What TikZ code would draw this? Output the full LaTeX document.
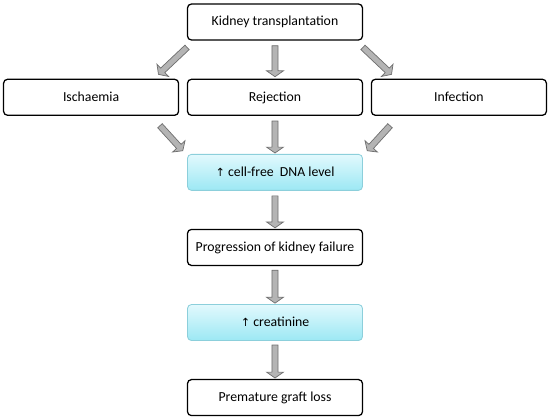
\documentclass[tikz,border=0pt]{standalone}
\usepackage{fontspec}
\setmainfont{Carlito}
\newfontfamily\symfont{DejaVu Sans}
\usetikzlibrary{arrows.meta,positioning,calc,shapes.arrows}
\definecolor{dnaTop}{HTML}{E2F9FD}
\definecolor{dnaBottom}{HTML}{9CE8F4}
\definecolor{dnaLine}{HTML}{8CCFDB}
\definecolor{arrowFill}{HTML}{B4B4B4}
\definecolor{arrowLine}{HTML}{6E6E6E}

% block arrow between two named coordinates
\newcommand{\graftarrow}[2]{%
  \path let \p1=($(#2)-(#1)$), \n1={atan2(\y1,\x1)}, \n2={veclen(\x1,\y1)} in
    node[flowarrow, rotate=\n1, minimum height=\n2] at ($(#1)!0.5!(#2)$) {};}

\begin{document}
\begin{tikzpicture}[
    x=0.025cm, y=-0.025cm,
    node distance=0.95cm and 0.19cm,
    font=\fontsize{9.8}{11}\selectfont,
    stepbox/.style={rectangle,rounded corners=0.1cm,draw=black,line width=0.9pt,
        fill=white,minimum width=4.375cm,minimum height=0.9cm,inner sep=0pt,
        text height=1.6ex,text depth=0.45ex},
    markerbox/.style={stepbox,draw=dnaLine,line width=0.6pt,
        top color=dnaTop,bottom color=dnaBottom},
    flowarrow/.style={single arrow,draw=arrowLine,fill=arrowFill,line width=0.5pt,
        inner sep=0.04cm,single arrow head extend=0.085cm,single arrow tip angle=110,
        single arrow head indent=0pt,minimum width=0.42cm}
]
    \useasboundingbox (0,0) rectangle (550,416);

    \node[stepbox] (kt) at (275,22) {Kidney transplantation};
    \node[stepbox] (rej) [below=of kt] {Rejection};
    \node[stepbox] (isch) [left=of rej] {Ischaemia};
    \node[stepbox] (inf) [right=of rej] {Infection};
    \node[markerbox] (dna) [below=of rej] {{\symfont\footnotesize↑} cell-free\ \ DNA level};
    \node[stepbox] (prog) [below=of dna] {Progression of kidney failure};
    \node[markerbox] (crea) [below=of prog] {{\symfont\footnotesize↑} creatinine};
    \node[stepbox] (loss) [below=of crea] {Premature graft loss};

    % arrow ends
    \coordinate (a1) at ($(kt.south west)+(1,6)$);
    \coordinate (a2) at ($(isch.north east)+(-20,-5)$);
    \coordinate (a3) at ($(kt.south east)+(-1,6)$);
    \coordinate (a4) at ($(inf.north west)+(20,-5)$);
    \coordinate (b1) at ($(isch.south east)+(-20,9)$);
    \coordinate (b2) at ($(dna.north west)+(-5,-4)$);
    \coordinate (b3) at ($(inf.south west)+(20,9)$);
    \coordinate (b4) at ($(dna.north east)+(5,-4)$);

    \graftarrow{$(kt.south)+(0,4)$}{$(rej.north)+(0,-3)$}
    \graftarrow{a1}{a2}
    \graftarrow{a3}{a4}
    \graftarrow{$(rej.south)+(0,4)$}{$(dna.north)+(0,-2)$}
    \graftarrow{b1}{b2}
    \graftarrow{b3}{b4}
    \graftarrow{$(dna.south)+(0,4)$}{$(prog.north)+(0,-2)$}
    \graftarrow{$(prog.south)+(0,3)$}{$(crea.north)+(0,-2)$}
    \graftarrow{$(crea.south)+(0,3)$}{$(loss.north)+(0,-2)$}
\end{tikzpicture}
\end{document}
